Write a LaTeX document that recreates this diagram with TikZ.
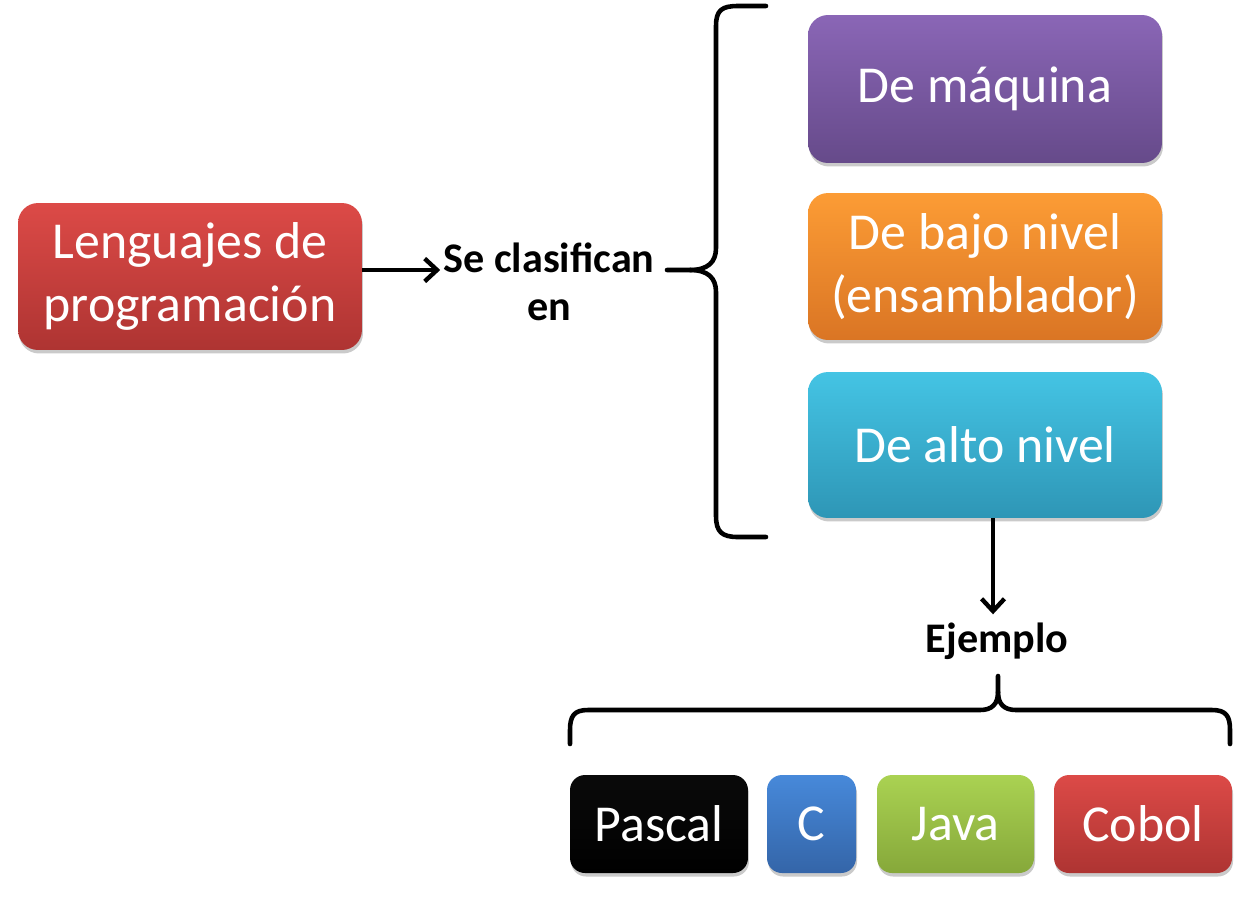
\documentclass[tikz,border=0pt]{standalone}
\usepackage{fontspec}
\setmainfont{Carlito}
\usetikzlibrary{arrows.meta,shadows,calc}
\definecolor{redT}{HTML}{DC4A47}
\definecolor{redB}{HTML}{AE3432}
\definecolor{purT}{HTML}{8A66B6}
\definecolor{purB}{HTML}{664A8A}
\definecolor{oraT}{HTML}{FC9C35}
\definecolor{oraB}{HTML}{DA7524}
\definecolor{cyaT}{HTML}{44C4E4}
\definecolor{cyaB}{HTML}{2E96B6}
\definecolor{bluT}{HTML}{4789DA}
\definecolor{bluB}{HTML}{3465A8}
\definecolor{greT}{HTML}{AAD252}
\definecolor{greB}{HTML}{86A83A}
\definecolor{blkT}{HTML}{0A0A0A}
\definecolor{blkB}{HTML}{000000}
\tikzset{
  box/.style n args={2}{rectangle, rounded corners=0.4cm, draw=none,
    top color=#1, bottom color=#2, text=white, align=center,
    font=\fontsize{29.5}{35.5}\selectfont, inner sep=0pt,
    drop shadow={opacity=0.35, shadow xshift=0.02cm, shadow yshift=-0.07cm, fill=black!60}},
  sbox/.style n args={2}{box={#1}{#2}, rounded corners=0.3cm},
  lbl/.style={font=\bfseries\fontsize{24}{27}\selectfont, align=center, inner sep=0pt, text=black},
  arr/.style={line width=2.5pt, -{Straight Barb[length=7pt,width=13pt,line width=2.5pt]}},
  brace/.style={line width=2.6pt, line cap=round, line join=round}
}
\begin{document}
\begin{tikzpicture}[x=0.02cm,y=-0.02cm]
\useasboundingbox (0,0) rectangle (1256,900);
% main boxes
\node[box={redT}{redB}, minimum width=6.88cm, minimum height=2.94cm] (lp) at (190,276.5) {Lenguajes de\\programación};
\node[box={purT}{purB}, minimum width=7.08cm, minimum height=2.96cm] (m1) at (985,89) {De máquina};
\node[box={oraT}{oraB}, minimum width=7.08cm, minimum height=2.94cm] (m2) at (985,266.5) {De bajo nivel\\(ensamblador)};
\node[box={cyaT}{cyaB}, minimum width=7.08cm, minimum height=2.92cm] (m3) at (985,445) {De alto nivel};
% example boxes
\node[sbox={blkT}{blkB}, minimum width=3.56cm, minimum height=1.96cm] (pa) at (659,824) {Pascal};
\node[sbox={bluT}{bluB}, minimum width=1.78cm, minimum height=1.96cm] (cc) at (811.5,824) {C};
\node[sbox={greT}{greB}, minimum width=3.14cm, minimum height=1.96cm] (ja) at (955.5,824) {Java};
\node[sbox={redT}{redB}, minimum width=3.56cm, minimum height=1.96cm] (co) at (1143,824) {Cobol};
% labels
\node[lbl] (sc) at (549,282) {Se clasifican\\en};
\node[lbl] (ej) at (997,641) {Ejemplo};
% arrows
\coordinate (a1s) at ($(lp.east)+(0,-6.5)$);
\coordinate (a1e) at ($(sc.west |- a1s)+(-3,0)$);
\draw[arr] (a1s) -- (a1e);
\coordinate (a2s) at (m3.south -| 993,0);
\coordinate (a2e) at ($(ej.north -| a2s)+(0,-8)$);
\draw[arr] (a2s) -- (a2e);
% left brace
\coordinate (lbt) at (667,270);
\draw[brace] (766,6) -- (738,6) .. controls (722,6) and (716,10) .. (716,26)
  -- (716,248) .. controls (716,262) and (708,270) .. (690,270) -- (lbt);
\draw[brace] (690,270) .. controls (708,270) and (716,278) .. (716,292)
  -- (716,516) .. controls (716,532) and (722,537) .. (738,537) -- (766,537);
% bottom brace
\coordinate (bbt) at (998,676);
\draw[brace] (570,744) -- (570,730) .. controls (570,716) and (574,710) .. (588,710)
  -- (980,710) .. controls (992,710) and (998,704) .. (998,692) -- (bbt);
\draw[brace] (998,692) .. controls (998,704) and (1004,710) .. (1016,710)
  -- (1212,710) .. controls (1226,710) and (1230,716) .. (1230,730) -- (1230,744);
\end{tikzpicture}
\end{document}
